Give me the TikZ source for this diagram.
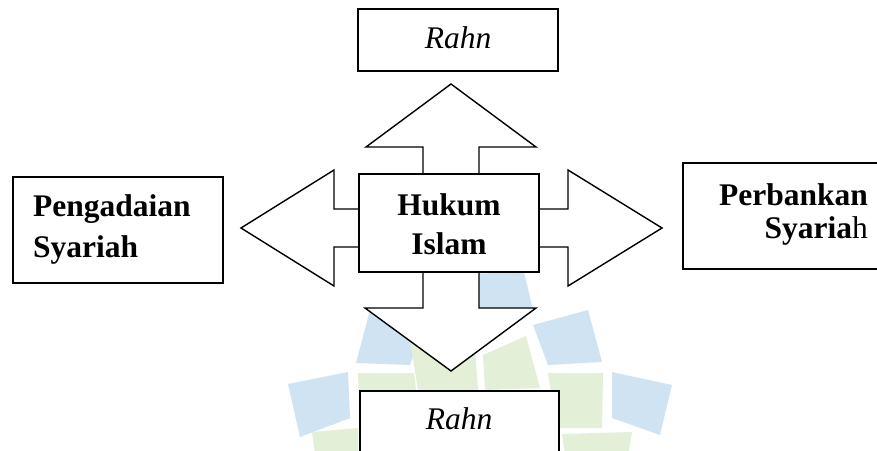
\documentclass[tikz,border=0pt]{standalone}
\usepackage{fontspec}
\setmainfont{Liberation Serif}
\definecolor{wmb}{RGB}{208,227,243}
\definecolor{wmg}{RGB}{228,239,216}
\tikzset{
  box/.style={draw=black, line width=2pt, fill=white, rectangle, inner sep=0pt},
  blockarrow/.style={draw=black, line width=1.4pt, fill=white, line join=miter},
  lbl/.style={font=\fontsize{31.5}{38}\selectfont\bfseries, inner sep=0pt},
  ilbl/.style={font=\fontsize{31.5}{38}\selectfont\itshape, inner sep=0pt},
  wmblue/.style={fill=wmb, draw=none},
  wmgreen/.style={fill=wmg, draw=none},
}
\begin{document}
\begin{tikzpicture}[x=1pt,y=-1pt]
\clip (0,0) rectangle (877,450);
\fill[white] (0,0) rectangle (877,450);
% watermark (faint logo)
\fill[wmblue] (370,310) -- (425,322) -- (410,365) -- (356,363) -- cycle;
\fill[wmblue] (465,274) -- (524,272) -- (533,310) -- (470,313) -- cycle;
\fill[wmblue] (533,325) -- (588,310) -- (602,362) -- (548,365) -- cycle;
\fill[wmblue] (288,384) -- (348,372) -- (350,418) -- (300,437) -- cycle;
\fill[wmblue] (612,372) -- (672,385) -- (660,435) -- (612,418) -- cycle;
\fill[wmgreen] (410,340) -- (474,334) -- (478,390) -- (418,390) -- cycle;
\fill[wmgreen] (483,355) -- (526,336) -- (540,388) -- (485,390) -- cycle;
\fill[wmgreen] (358,373) -- (414,373) -- (420,424) -- (360,428) -- cycle;
\fill[wmgreen] (548,373) -- (603,373) -- (602,428) -- (556,428) -- cycle;
\fill[wmgreen] (312,432) -- (358,428) -- (358,455) -- (315,455) -- cycle;
\fill[wmgreen] (562,434) -- (632,432) -- (628,455) -- (565,455) -- cycle;
% block arrows
\draw[blockarrow] (423,180) -- (423,147) -- (366,147) -- (451,84) -- (536,147) -- (479,147) -- (479,180);
\draw[blockarrow] (423,266) -- (423,308) -- (365,308) -- (451,371) -- (536,308) -- (479,308) -- (479,266);
\draw[blockarrow] (365,209) -- (334,209) -- (334,170) -- (241,228) -- (334,286) -- (334,247) -- (365,247);
\draw[blockarrow] (533,209) -- (568,209) -- (568,170) -- (662,228) -- (568,286) -- (568,247) -- (533,247);
% boxes
\node[box, minimum width=200pt, minimum height=62pt] (rahntop) at (458,40) {};
\node[box, minimum width=180pt, minimum height=98pt] (hukum) at (449,223) {};
\node[box, minimum width=210pt, minimum height=106pt] (pegadaian) at (118,230) {};
\node[box, minimum width=227pt, minimum height=105.5pt] (perbankan) at (796.5,215.75) {};
\node[box, minimum width=199pt, minimum height=89pt] (rahnbot) at (459.5,435.5) {};
% texts
\node[ilbl, anchor=base] (t1) at (458,48.3) {Rahn};
\node[ilbl, anchor=base] (t2) at (459,429.3) {Rahn};
\node[lbl, anchor=base] (t3) at (449,215) {Hukum};
\node[lbl, anchor=base] (t4) at (449,254) {Islam};
\node[lbl, anchor=base west] (t5) at (33,216.5) {Pengadaian};
\node[lbl, anchor=base west] (t6) at (33,257) {Syariah};
\node[lbl, anchor=base east] (t7) at (868,205) {Perbankan};
\node[lbl, anchor=base east] (t8) at (868,238) {Syaria\mdseries h};
\end{tikzpicture}
\end{document}
